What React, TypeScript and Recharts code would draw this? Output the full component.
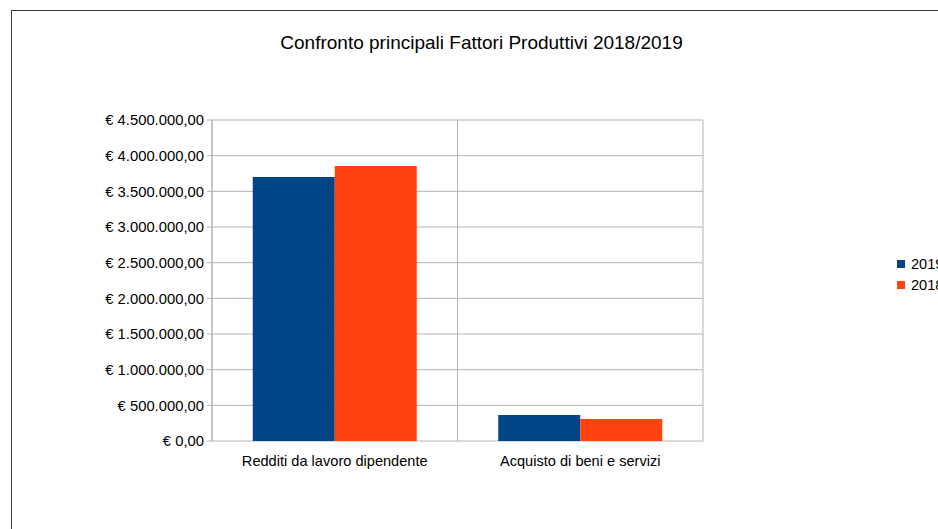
import React from "react";
import {
  BarChart,
  Bar,
  XAxis,
  YAxis,
  CartesianGrid,
} from "recharts";

const categories = ["Redditi da lavoro dipendente", "Acquisto di beni e servizi"];
const values2019 = [3702000, 364000];
const values2018 = [3855000, 308000];
const yTicks = [0, 500000, 1000000, 1500000, 2000000, 2500000, 3000000, 3500000, 4000000, 4500000];
const seriesNames = ["2019", "2018"];
const seriesColors = ["#004586", "#ff420e"];

const data = categories.map((name, i) => ({
  name,
  idx: i + 0.5,
  y2019: values2019[i],
  y2018: values2018[i],
}));

const FONT = '"Liberation Sans", Arial, sans-serif';
const GRID = "#b3b3b3";

function euro(v: number) {
  const s = Math.round(v).toString().replace(/\B(?=(\d{3})+(?!\d))/g, ".");
  return "€ " + s + ",00";
}

export default function App() {
  return (
    <div
      style={{
        position: "absolute",
        left: 0,
        top: 0,
        width: 938,
        height: 529,
        overflow: "hidden",
        background: "#fff",
        fontFamily: FONT,
      }}
    >
      <div
        style={{
          position: "absolute",
          left: 11,
          top: 10,
          width: 1000,
          height: 600,
          border: "1px solid #3c3c3c",
        }}
      />
      <div
        style={{
          position: "absolute",
          left: 0,
          top: 32,
          width: 963,
          textAlign: "center",
          fontSize: 19,
          color: "#000",
        }}
      >
        Confronto principali Fattori Produttivi 2018/2019
      </div>
      <div style={{ position: "absolute", left: 0, top: 0 }}>
        <BarChart
          width={938}
          height={529}
          data={data}
          margin={{ top: 120, right: 235, left: 0, bottom: 0 }}
          barCategoryGap="16.6%"
          barGap={0}
        >
          <CartesianGrid
            stroke={GRID}
            verticalCoordinatesGenerator={({ offset }: any) => [
              offset.left,
              offset.left + offset.width / 2,
              offset.left + offset.width,
            ]}
          />
          <XAxis
            xAxisId="b"
            type="number"
            dataKey="idx"
            domain={[0, 2]}
            ticks={[0, 1, 2]}
            height={0}
            tickSize={7}
            tickFormatter={() => ""}
            stroke={GRID}
          />
          <XAxis
            dataKey="name"
            height={88}
            axisLine={false}
            tickLine={false}
            tick={{ fill: "#000", fontSize: 14.6, fontFamily: FONT }}
            dy={7}
            interval={0}
          />
          <YAxis
            width={212}
            domain={[0, 4500000]}
            ticks={yTicks}
            tickFormatter={euro}
            tickSize={5}
            stroke={GRID}
            tick={{ fill: "#000", fontSize: 14.8, fontFamily: FONT }}
            dx={-1}
            interval={0}
          />
          <Bar dataKey="y2019" fill={seriesColors[0]} isAnimationActive={false} />
          <Bar dataKey="y2018" fill={seriesColors[1]} isAnimationActive={false} />
        </BarChart>
      </div>
      <div style={{ position: "absolute", left: 897, top: 253, fontSize: 14.6, color: "#000" }}>
        {seriesNames.map((s, i) => (
          <div key={s} style={{ display: "flex", alignItems: "center", height: 21, whiteSpace: "nowrap" }}>
            <span
              style={{
                display: "inline-block",
                width: 8,
                height: 8,
                background: seriesColors[i],
                marginRight: 6,
              }}
            />
            {s}
          </div>
        ))}
      </div>
    </div>
  );
}
